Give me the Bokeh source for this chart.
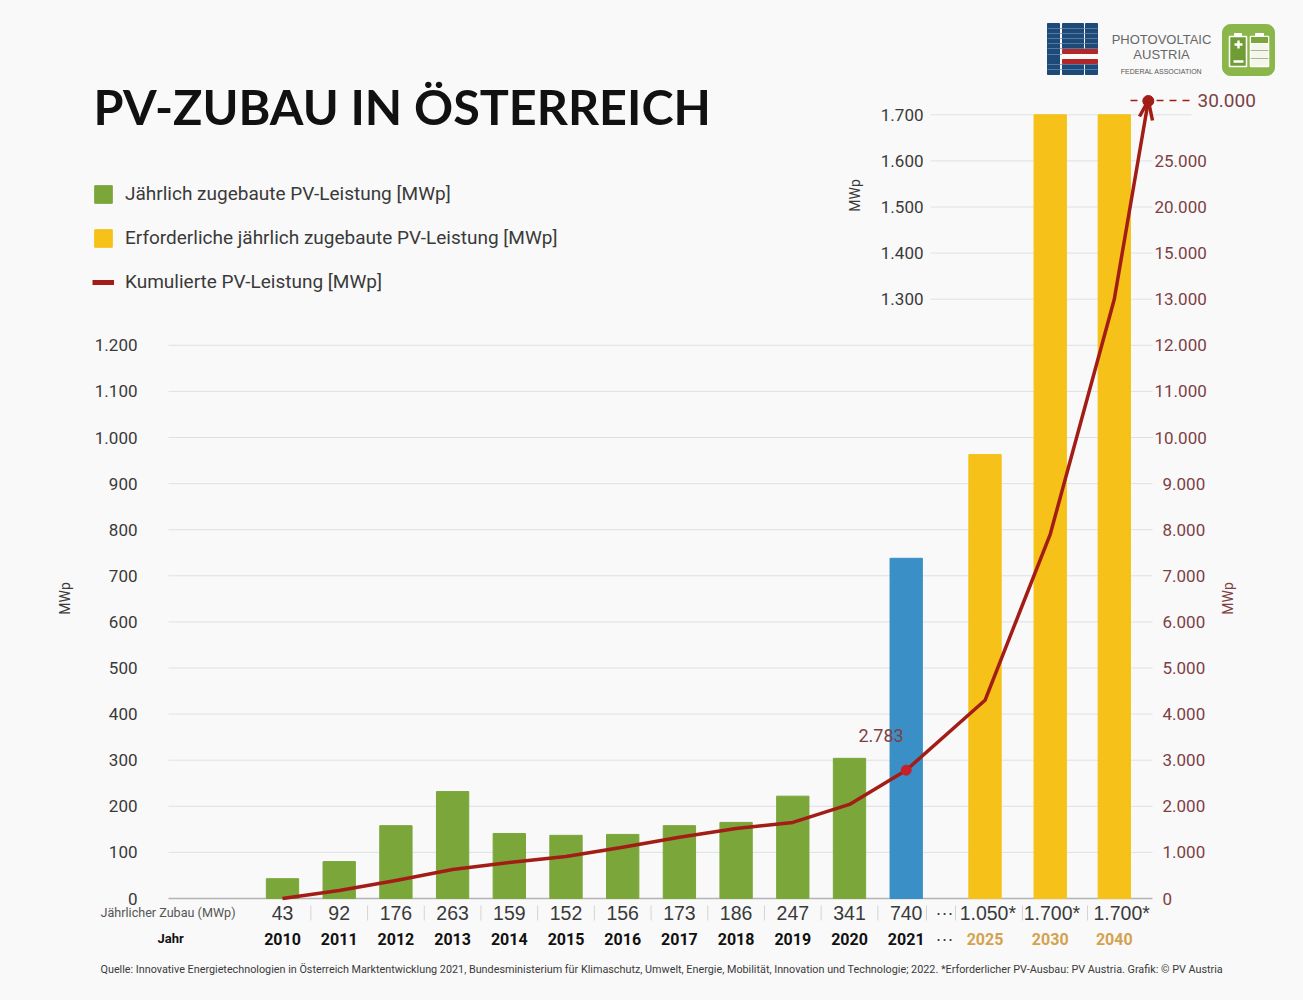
from math import pi
from bokeh.embed import file_html
from bokeh.models import ColumnDataSource, FixedTicker, Legend, LegendItem, LinearAxis, Range1d
from bokeh.plotting import figure
from bokeh.resources import INLINE
from bokeh.core.properties import value

# ---------- data ----------
years = ["2010","2011","2012","2013","2014","2015","2016","2017","2018","2019","2020","2021","2025","2030","2040"]
annual_labels = ["43","92","176","263","159","152","156","173","186","247","341","740","1.050*","1.700*","1.700*"]
bar_heights = [43,80,158,232,141,137,139,158,165,222,304,738,963,1700,1700]
bar_kinds = ["g"]*11 + ["b"] + ["y"]*3
cumulative = [0,175,390,630,780,910,1110,1330,1520,1650,2040,2783,4300,7900,13000]
cumulative_end_on_axis = 17300      # the broken right axis shows 30.000 here
left_ticks = [0,100,200,300,400,500,600,700,800,900,1000,1100,1200]
upper_ticks = [1300,1400,1500,1600,1700]
right_ticks_4 = [0,1000,2000,3000,4000,5000,6000,7000,8000,9000]
right_labels_4 = ["0","1.000","2.000","3.000","4.000","5.000","6.000","7.000","8.000","9.000"]
right_ticks_5 = [10000,11000,12000,13000,14000,15000,16000]
right_labels_5 = ["10.000","11.000","12.000","13.000","15.000","20.000","25.000"]
right_ticks_top = [17300]
right_labels_top = ["30.000"]
legend_labels = ["Jährlich zugebaute PV-Leistung [MWp]","Erforderliche jährlich zugebaute PV-Leistung [MWp]","Kumulierte PV-Leistung [MWp]"]
title_text = "PV-ZUBAU IN ÖSTERREICH"
source_text = ("Quelle: Innovative Energietechnologien in Österreich Marktentwicklung 2021, Bundesministerium für Klimaschutz, "
               "Umwelt, Energie, Mobilität, Innovation und Technologie; 2022. *Erforderlicher PV-Ausbau: PV Austria. Grafik: © PV Austria")

# ---------- layout helpers ----------
W, H = 1287, 984
X0, SLOT = 282.0, 56.7      # page px of first year, px per slot
Y0, UNIT = 898.0, 0.461     # page px of zero, px per MW
slots = [0,1,2,3,4,5,6,7,8,9,10,11,12.39,13.54,14.67]
label_shift = [0]*12 + [0.05, 0.03, 0.13]
end_slot = 15.27
def px(x): return (x - X0) / SLOT
def py(y): return (Y0 - y) / UNIT

BG = "#f9f9f9"; GREEN = "#7ba63a"; BLUE = "#3a8fc6"; YELLOW = "#f6c118"; RED = "#a31d17"
MAROON = "#7d3f45"; DARK = "#3a3a3a"; GRID = "#dfe0e7"
FONT = "Roboto"; SANS = "Liberation Sans"

x_range = Range1d(px(0), px(W))
y_range = Range1d(py(H), py(0))
p = figure(width=W, height=H, x_range=x_range, y_range=y_range, output_backend="svg",
           toolbar_location=None, min_border=0, background_fill_color=BG, border_fill_color=BG,
           outline_line_color=None, x_axis_type=None, y_axis_type=None)
p.grid.visible = False
p.extra_y_ranges = {"cum": Range1d(y_range.start * 10, y_range.end * 10)}

# grid lines
p.segment(px(168), left_ticks[1:], px(1152), left_ticks[1:], line_color=GRID, line_width=1)
p.segment(px(930), upper_ticks, px(1152), upper_ticks, line_color=GRID, line_width=1)
p.segment(px(1152), [1700], px(1191), [1700], line_color=GRID, line_width=1)
p.segment(px(168), [0], px(1152), [0], line_color="#b4b4b8", line_width=1.5)

# bars
def bars(kind, color):
    idx = [i for i, k in enumerate(bar_kinds) if k == kind]
    src = ColumnDataSource(dict(x=[slots[i] for i in idx], top=[bar_heights[i] for i in idx]))
    return p.vbar(x="x", top="top", bottom=0, width=0.57, color=color, source=src)
r_green = bars("g", GREEN); r_blue = bars("b", BLUE); r_yellow = bars("y", YELLOW)

# cumulative line
r_line = p.line(slots + [end_slot], cumulative + [cumulative_end_on_axis], y_range_name="cum",
                line_color=RED, line_width=3.5, line_join="round")
p.scatter([slots[11]], [cumulative[11]], y_range_name="cum", size=10, color="#c8202a")
p.scatter([end_slot], [cumulative_end_on_axis], y_range_name="cum", size=11, color=RED)
p.multi_line([[px(1139), end_slot, px(1152)]], [[py(116), py(100), py(120)]], line_color=RED, line_width=3.5)
p.line([px(1130), px(1192)], [py(100), py(100)], line_color=RED, line_width=1.6, line_dash="7 6")

# axes
def axis(ticks, labels, x_page, side, color, range_name=None, size="17px"):
    kw = {"y_range_name": range_name} if range_name else {}
    a = LinearAxis(ticker=FixedTicker(ticks=ticks), major_label_overrides=dict(zip(ticks, labels)),
                   axis_line_color=None, major_tick_line_color=None, minor_tick_line_color=None,
                   major_label_text_font=FONT, major_label_text_font_size=size,
                   major_label_text_color=color, major_label_standoff=0, fixed_location=px(x_page), **kw)
    p.add_layout(a, side)
    return a
fmt = lambda v: f"{v:,}".replace(",", ".")
axis(left_ticks, [fmt(v) for v in left_ticks], 143, "left", DARK)
axis(upper_ticks, [fmt(v) for v in upper_ticks], 929, "left", DARK)
axis(right_ticks_4, right_labels_4, 1156, "right", MAROON, "cum")
axis(right_ticks_5, right_labels_5, 1148, "right", MAROON, "cum")
axis(right_ticks_top, right_labels_top, 1191, "right", MAROON, "cum", "19px")

def text(x, y, t, size, color=DARK, font=FONT, style="normal", align="left", angle=0):
    p.text([x], [y], text=[t], text_font=value(font), text_font_size=f"{size}px", text_color=color,
           text_font_style=style, text_align=align, text_baseline="middle", angle=angle)

# texts
text(px(93), py(105), title_text, 48.5, "#111111", "Lato", "bold")
text(px(858), py(735), "2.783", 18, MAROON, FONT)
text(px(64), py(598), "MWp", 14, DARK, FONT, align="center", angle=pi/2)
text(px(854), py(195), "MWp", 14, DARK, FONT, align="center", angle=pi/2)
text(px(1227), py(598), "MWp", 14, MAROON, FONT, align="center", angle=pi/2)

# table under the axis
text(px(100), py(912), "Jährlicher Zubau (MWp)", 12.6, "#555555", FONT)
text(px(157), py(938), "Jahr", 13, "#111111", FONT, "bold")
year_colors = ["#111111"] * 12 + ["#d4a24e"] * 3
for s, d, lab, yr, c in zip(slots, label_shift, annual_labels, years, year_colors):
    text(s + d, py(912), lab, 19.5, DARK, SANS, align="center")
    text(s, py(938), yr, 16, c, FONT, "bold", align="center")
text(px(944), py(912), "···", 18, DARK, SANS, align="center")
text(px(944), py(938), "···", 18, DARK, SANS, align="center")
sep_x = [s + 0.5 for s in slots[:11]] + [px(926), px(955), px(1022), px(1087)]
p.segment(sep_x, py(905), sep_x, py(920), line_color="#d4d4d4", line_width=1)
text(px(100), py(969), source_text, 10.8, DARK, FONT)

# logo
for l, r in [(1047, 1059), (1062, 1083), (1085, 1097)]:
    p.quad(left=px(l), right=px(r), top=py(23), bottom=py(74), color="#1d4a78")
rows = [28, 33, 38, 43, 48, 54, 64, 69]
for yy in rows:
    p.segment(px(1047), py(yy), px(1097), py(yy), line_color="#6f8fb0", line_width=0.7)
p.quad(left=px(1062), right=px(1097), top=py(49), bottom=py(63), color=BG)
p.quad(left=px(1062), right=px(1097), top=py(49), bottom=py(53), color="#b3262a")
p.quad(left=px(1062), right=px(1097), top=py(59), bottom=py(63), color="#b3262a")
text(px(1161), py(39), "PHOTOVOLTAIC", 13, "#666666", SANS, align="center")
text(px(1161), py(54), "AUSTRIA", 13, "#666666", SANS, align="center")
text(px(1161), py(71), "FEDERAL ASSOCIATION", 7, "#555555", SANS, align="center")
p.quad(left=px(1222), right=px(1274), top=py(24), bottom=py(75), color="#8ab64a", border_radius=8)
p.quad(left=px(1229), right=px(1246), top=py(36), bottom=py(66), fill_color="#6f9c34", line_color="white", line_width=1.6)
p.quad(left=px(1250), right=px(1268), top=py(36), bottom=py(66), fill_color="#f4f6ee", line_color="white", line_width=1.6)
p.quad(left=px(1250), right=px(1268), top=py(36), bottom=py(43), fill_color="#7ba63a", line_color="white")
p.segment(px(1250), [py(50), py(58)], px(1268), [py(50), py(58)], line_color="#a9b98e", line_width=1)
p.quad(left=[px(1234), px(1255)], right=[px(1241), px(1263)], top=py(36), bottom=py(33), color="white")
p.segment(px(1234), py(44), px(1242), py(44), line_color="white", line_width=2.4)
p.segment(px(1238), py(40), px(1238), py(48), line_color="white", line_width=2.4)
p.segment(px(1233), py(61), px(1243), py(61), line_color="white", line_width=2.4)

# legend (thicker swatch than the data line: this renderer lies outside the visible range)
r_legend_line = p.line([-100, -99], [0, 0], line_color=RED, line_width=5)
legend = Legend(items=[LegendItem(label=legend_labels[0], renderers=[r_green]),
                       LegendItem(label=legend_labels[1], renderers=[r_yellow]),
                       LegendItem(label=legend_labels[2], renderers=[r_legend_line])],
                location=(92, H - 293), orientation="vertical", background_fill_alpha=0, border_line_color=None,
                padding=0, margin=0, spacing=21, glyph_width=22, glyph_height=22, label_standoff=11,
                label_text_font=FONT, label_text_font_size="19px", label_text_color=DARK, label_height=22)
p.add_layout(legend, "center")

html = file_html(p, INLINE)
html = html.replace("<head>", f"<head><style>html,body{{background:{BG};margin:0}}</style>", 1)
open("out.html", "w").write(html)
